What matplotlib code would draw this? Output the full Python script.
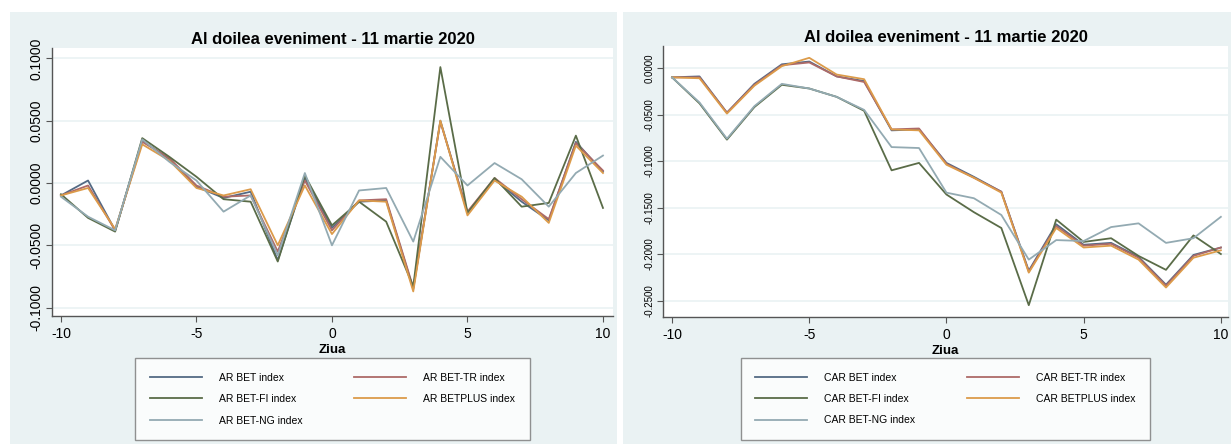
import matplotlib
matplotlib.use("Agg")
import matplotlib.pyplot as plt
from matplotlib.patches import Rectangle

plt.rcParams["font.family"] = ["Liberation Sans", "DejaVu Sans"]
plt.rcParams["axes.unicode_minus"] = False

# event window, days around 11 March 2020
days = [-10, -9, -8, -7, -6, -5, -4, -3, -2, -1, 0, 1, 2, 3, 4, 5, 6, 7, 8, 9, 10]

# abnormal returns
ar_bet = [-0.010, 0.002, -0.038, 0.034, 0.019, -0.003, -0.012, -0.007, -0.062, 0.004, -0.036,
          -0.015, -0.014, -0.085, 0.050, -0.024, 0.003, -0.015, -0.030, 0.033, 0.009]
ar_bettr = [-0.010, -0.002, -0.038, 0.033, 0.020, -0.002, -0.011, -0.010, -0.055, 0.002, -0.038,
            -0.014, -0.013, -0.084, 0.049, -0.023, 0.004, -0.013, -0.029, 0.032, 0.010]
ar_betfi = [-0.009, -0.028, -0.039, 0.036, 0.021, 0.005, -0.013, -0.015, -0.063, 0.006, -0.034,
            -0.015, -0.031, -0.083, 0.093, -0.024, 0.004, -0.019, -0.016, 0.038, -0.020]
ar_betplus = [-0.010, -0.004, -0.037, 0.031, 0.018, -0.004, -0.010, -0.005, -0.050, -0.002, -0.041,
              -0.014, -0.015, -0.087, 0.050, -0.026, 0.002, -0.011, -0.032, 0.030, 0.008]
ar_betng = [-0.011, -0.027, -0.038, 0.035, 0.017, 0.002, -0.023, -0.010, -0.058, 0.008, -0.050,
            -0.006, -0.004, -0.047, 0.021, -0.002, 0.016, 0.003, -0.019, 0.008, 0.022]

# cumulative abnormal returns
car_bet = [-0.010, -0.009, -0.048, -0.017, 0.004, 0.007, -0.009, -0.014, -0.067, -0.066, -0.102,
           -0.117, -0.133, -0.218, -0.168, -0.190, -0.188, -0.203, -0.233, -0.201, -0.193]
car_bettr = [-0.010, -0.010, -0.048, -0.018, 0.003, 0.006, -0.009, -0.015, -0.066, -0.065, -0.103,
             -0.118, -0.133, -0.219, -0.170, -0.191, -0.189, -0.204, -0.234, -0.202, -0.193]
car_betfi = [-0.010, -0.038, -0.077, -0.042, -0.018, -0.022, -0.031, -0.046, -0.110, -0.102, -0.136,
             -0.155, -0.172, -0.255, -0.163, -0.187, -0.183, -0.202, -0.217, -0.180, -0.200]
car_betplus = [-0.010, -0.011, -0.049, -0.019, 0.002, 0.011, -0.007, -0.012, -0.066, -0.067, -0.104,
               -0.118, -0.134, -0.220, -0.172, -0.193, -0.191, -0.206, -0.236, -0.204, -0.196]
car_betng = [-0.010, -0.037, -0.076, -0.041, -0.017, -0.022, -0.031, -0.045, -0.085, -0.086, -0.134,
             -0.140, -0.158, -0.206, -0.185, -0.186, -0.171, -0.167, -0.188, -0.183, -0.160]

names = ["BET index", "BET-TR index", "BET-FI index", "BETPLUS index", "BET-NG index"]
colors = ["#536a84", "#ad6a68", "#5a6c48", "#dc9b4a", "#93aab2"]

ar_series = [ar_bet, ar_bettr, ar_betfi, ar_betplus, ar_betng]
car_series = [car_bet, car_bettr, car_betfi, car_betplus, car_betng]

title = "Al doilea eveniment - 11 martie 2020"
bg = "#eaf2f3"

W, H = 1231, 446
fig = plt.figure(figsize=(W / 100, H / 100), dpi=100)
fig.patch.set_facecolor("white")

# graph region backgrounds
for x0, x1 in [(10, 617), (623, 1231)]:
    fig.patches.append(Rectangle((x0 / W, 1 - 444 / H), (x1 - x0) / W, (444 - 12) / H,
                                 transform=fig.transFigure, facecolor=bg, edgecolor="none",
                                 zorder=-5))


def panel(rect, series, prefix, ylim, yticks, xlim, ytick_size, legend_y):
    ax = fig.add_axes(rect)
    ax.set_facecolor("white")
    for vals, name, c in zip(series, names, colors):
        ax.plot(days, vals, color=c, lw=1.3, label=prefix + " " + name)
    ax.set_xlim(*xlim)
    ax.set_ylim(*ylim)
    ax.set_xticks([-10, -5, 0, 5, 10])
    ax.set_yticks(yticks)
    ax.set_yticklabels(["%.4f" % v for v in yticks], rotation=90, va="center",
                       fontsize=ytick_size)
    ax.tick_params(axis="x", labelsize=10, length=4, color="#555555", pad=4)
    ax.tick_params(axis="y", length=4, color="#555555", pad=2)
    ax.grid(axis="y", color=bg, lw=1.2)
    ax.set_axisbelow(True)
    for s in ["top", "right"]:
        ax.spines[s].set_visible(False)
    for s in ["left", "bottom"]:
        ax.spines[s].set_color("#555555")
        ax.spines[s].set_linewidth(1.0)
    ax.set_xlabel("Ziua", fontsize=9.5, fontweight="bold", labelpad=2)
    ax.set_title(title, fontsize=12, fontweight="bold", pad=3)
    h, l = ax.get_legend_handles_labels()
    order = [0, 2, 4, 1, 3]
    leg = ax.legend([h[i] for i in order], [l[i] for i in order], ncol=2,
                    loc="upper center", bbox_to_anchor=(0.5, legend_y),
                    fontsize=7.5, frameon=True, fancybox=False, edgecolor="#777777",
                    handlelength=5, columnspacing=5, labelspacing=1.1,
                    borderpad=1.4, handletextpad=1.6, borderaxespad=0)
    leg.get_frame().set_linewidth(1.0)
    return ax


panel([52 / W, 1 - 316 / H, (613 - 52) / W, (316 - 48) / H], ar_series, "AR",
      (-0.1067, 0.1083), [-0.1, -0.05, 0.0, 0.05, 0.1], (-10.33, 10.37), 10, -0.157)
panel([663 / W, 1 - 317 / H, (1228 - 663) / W, (317 - 46) / H], car_series, "CAR",
      (-0.2677, 0.0237), [-0.25, -0.2, -0.15, -0.1, -0.05, 0.0], (-10.33, 10.26), 7, -0.151)

fig.savefig("out.png", dpi=100)
